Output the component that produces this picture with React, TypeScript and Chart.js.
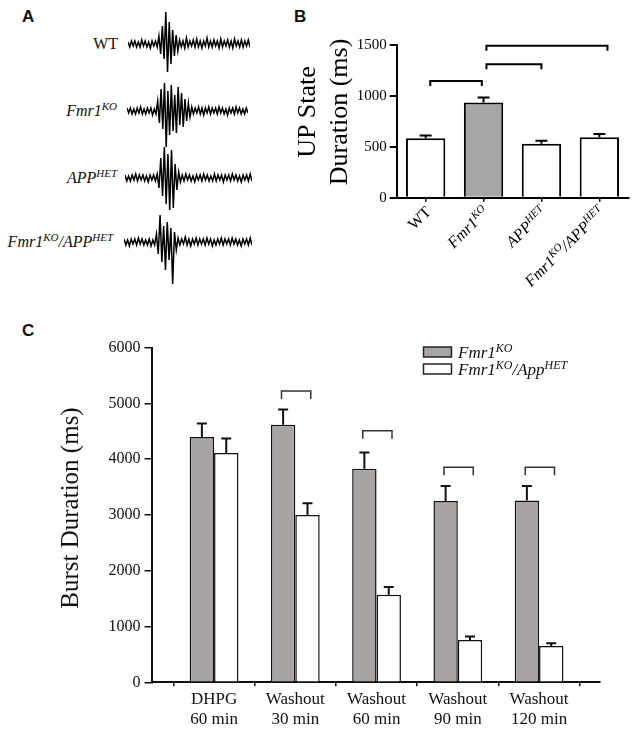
import React, { useEffect, useRef } from 'react';
import { Chart, registerables } from 'chart.js';
Chart.register(...registerables);

const SERIF = '"Liberation Serif", "Times New Roman", serif';
const SANS = '"Liberation Sans", Arial, sans-serif';

// ---------- Panel A: example traces (amplitude, arbitrary units) ----------
const wtTrace = [
  2, -3, 3, -2, 3, -3, 2, -3, 4, -2, 3, -3, 2, -4, 3, -2, 3, -3,
  8, -10, 18, -15, 32, -28, 22, -20, 14, -12, 9, -7,
  4, -3, 3, -4, 6, -3, 3, -2, 4, -3, 5, -3, 3, -4, 3, -2, 6, -3, 3, -3, 4,
  -2, 3, -4, 5, -3, 3, -2, 4, -3, 3, -4, 5, -2, 3, -3, 4, -3, 3, -2, 4, -3,
];
const fmrTrace = [
  3, -2, 3, -3, 2, -3, 3, -2, 4, -3, 2, -3, 3, -2, 3, -4, 2, -3,
  10, -12, 22, -18, 28, -36, 20, -24, 26, -20, 16, -22, 24, -14, 18, -16, 12, -10, 8, -6,
  4, -3, 3, -2, 4, -3, 3, -4, 3, -2, 4, -3, 3, -2, 3, -3, 4,
  -2, 3, -3, 2, -4, 3, -2, 3, -3, 4, -2, 3, -3, 2, -3, 3, -2,
];
const appTrace = [
  3, -3, 2, -3, 3, -2, 4, -3, 3, -2, 3, -3, 2, -4, 3, -2, 3, -3, 4,
  -10, 20, -18, 31, -26, 24, -32, 28, -30, 14, -12, 6,
  -4, 3, -3, 4, -2, 3, -3, 2, -4, 3, -2, 3, -3, 4, -2, 3, -3, 2, -3, 4, -3,
  3, -2, 3, -4, 3, -2, 3, -3, 4, -2, 3, -3, 2, -4, 3, -2, 3, -3, 4, -3,
];
const dblTrace = [
  3, -3, 2, -4, 3, -2, 3, -3, 4, -2, 3, -3, 2, -3, 3, -4, 2, -3,
  8, -12, 27, -20, 16, -28, 20, -18, 14, -42, 10, -8,
  4, -3, 3, -2, 5, -3, 3, -4, 3, -2, 4, -3, 3, -2, 3, -3, 4, -2, 3, -4, 2,
  -3, 3, -2, 4, -3, 3, -2, 3, -3, 4, -2, 3, -3, 2, -4, 3, -2, 3, -3, 4, -3,
];

// ---------- Panel B: UP state duration ----------
type Seg = [string, number]; // [text, superscript?]
const genotypeLabels: Seg[][] = [
  [['WT', 0]],
  [['Fmr1', 0], ['KO', 1]],
  [['APP', 0], ['HET', 1]],
  [['Fmr1', 0], ['KO', 1], ['/APP', 0], ['HET', 1]],
];
const genotypeItalic = [false, true, true, true];
const genotypes = ['WT', 'Fmr1KO', 'APPHET', 'Fmr1KO/APPHET'];
const upStateMean = [585, 935, 530, 595];
const upStateSem = [25, 50, 30, 30];
const upStateColors = ['#ffffff', '#a6a6a6', '#ffffff', '#ffffff'];
const upTicks = [0, 500, 1000, 1500];
// [from index, to index, height (ms)]
const upBrackets = [
  [0.08, 0.97, 1146],
  [1.05, 2.0, 1310],
  [1.05, 3.14, 1493],
];

// ---------- Panel C: burst duration ----------
const timepoints = [
  ['DHPG', '60 min'],
  ['Washout', '30 min'],
  ['Washout', '60 min'],
  ['Washout', '90 min'],
  ['Washout', '120 min'],
];
const fmrBurst = [4400, 4620, 3830, 3250, 3260];
const fmrBurstSem = [240, 270, 290, 270, 260];
const dblBurst = [4110, 3000, 1570, 760, 650];
const dblBurstSem = [260, 210, 140, 60, 50];
// [timepoint index, height (ms)]
const burstBrackets = [
  [1, 5223],
  [2, 4512],
  [3, 3855],
  [4, 3855],
];
const legendC: Seg[][] = [
  [['Fmr1', 0], ['KO', 1]],
  [['Fmr1', 0], ['KO', 1], ['/App', 0], ['HET', 1]],
];
const GRAY = '#a8a4a4';

function drawRich(
  ctx: CanvasRenderingContext2D,
  segs: Seg[],
  x: number,
  y: number,
  size: number,
  italic: boolean,
  align: 'left' | 'right' | 'center'
) {
  const fontFor = (s: number) =>
    `${italic ? 'italic ' : ''}${s ? Math.round(size * 0.68) : size}px ${SERIF}`;
  let total = 0;
  const widths = segs.map(([t, s]) => {
    ctx.font = fontFor(s);
    const w = ctx.measureText(t).width;
    total += w;
    return w;
  });
  let cx = align === 'left' ? x : align === 'right' ? x - total : x - total / 2;
  ctx.textAlign = 'left';
  ctx.textBaseline = 'alphabetic';
  segs.forEach(([t, s], i) => {
    ctx.font = fontFor(s);
    ctx.fillText(t, cx, s ? y - size * 0.36 : y);
    cx += widths[i];
  });
}

function Trace({ data, left, top, width }: { data: number[]; left: number; top: number; width: number }) {
  const ref = useRef<HTMLCanvasElement>(null);
  useEffect(() => {
    const chart = new Chart(ref.current!, {
      type: 'line',
      data: {
        labels: data.map((_, i) => i),
        datasets: [
          {
            data,
            borderColor: '#000',
            borderWidth: 1.5,
            pointRadius: 0,
            tension: 0,
            fill: false,
          },
        ],
      },
      options: {
        animation: false,
        responsive: false,
        maintainAspectRatio: false,
        layout: { padding: 0 },
        plugins: { legend: { display: false }, tooltip: { enabled: false } },
        scales: {
          x: { display: false, offset: false },
          y: { display: false, min: -45, max: 45 },
        },
      },
    });
    return () => chart.destroy();
  }, []);
  return (
    <canvas
      ref={ref}
      width={width}
      height={90}
      style={{ position: 'absolute', left, top, width, height: 90 }}
    />
  );
}

const plainTick = (v: any) => String(v);

function PanelB() {
  const ref = useRef<HTMLCanvasElement>(null);
  useEffect(() => {
    const plugin = {
      id: 'panelB',
      afterDatasetsDraw(chart: any) {
        const ctx = chart.ctx as CanvasRenderingContext2D;
        const xs = chart.scales.x;
        const ys = chart.scales.y;
        const meta = chart.getDatasetMeta(0);
        ctx.save();
        ctx.strokeStyle = '#000';
        ctx.lineWidth = 2;
        meta.data.forEach((bar: any, i: number) => {
          const yTop = ys.getPixelForValue(upStateMean[i] + upStateSem[i]);
          ctx.beginPath();
          ctx.moveTo(bar.x, bar.y);
          ctx.lineTo(bar.x, yTop);
          ctx.moveTo(bar.x - 6, yTop);
          ctx.lineTo(bar.x + 6, yTop);
          ctx.stroke();
        });
        upBrackets.forEach(([a, b, h]) => {
          const x1 = xs.getPixelForValue(a);
          const x2 = xs.getPixelForValue(b);
          const y = ys.getPixelForValue(h);
          ctx.beginPath();
          ctx.moveTo(x1, y + 5);
          ctx.lineTo(x1, y);
          ctx.lineTo(x2, y);
          ctx.lineTo(x2, y + 5);
          ctx.stroke();
        });
        ctx.fillStyle = '#000';
        const axisY = chart.chartArea.bottom;
        genotypeLabels.forEach((segs, i) => {
          const cx = xs.getPixelForValue(i);
          ctx.save();
          ctx.translate(cx + 2, axisY + 11);
          ctx.rotate(-Math.PI / 4);
          drawRich(ctx, segs, 0, 6, 16, genotypeItalic[i], 'right');
          ctx.restore();
        });
        ctx.save();
        ctx.font = `26px ${SERIF}`;
        ctx.textAlign = 'center';
        ctx.textBaseline = 'middle';
        ctx.translate(48, 112);
        ctx.rotate(-Math.PI / 2);
        ctx.fillText('UP State', 0, 0);
        ctx.fillText('Duration (ms)', 0, 32);
        ctx.restore();
        ctx.restore();
      },
    };
    const chart = new Chart(ref.current!, {
      type: 'bar',
      data: {
        labels: genotypes,
        datasets: [
          {
            data: upStateMean,
            backgroundColor: upStateColors,
            borderColor: '#000',
            borderWidth: 2,
            barPercentage: 0.68,
            categoryPercentage: 1,
          },
        ],
      },
      options: {
        animation: false,
        responsive: false,
        maintainAspectRatio: false,
        layout: { padding: { top: 45, right: 4.7, left: 0, bottom: 0 } },
        plugins: { legend: { display: false }, tooltip: { enabled: false } },
        scales: {
          x: {
            offset: true,
            grid: {
              display: true,
              offset: false,
              drawOnChartArea: false,
              drawTicks: true,
              tickLength: 4,
              color: '#000',
              lineWidth: 1.5,
            },
            border: { display: true, color: '#000', width: 2 },
            ticks: { display: false },
            afterFit: (s: any) => {
              s.height = 132.3;
            },
          },
          y: {
            min: 0,
            max: 1500,
            afterBuildTicks: (s: any) => {
              s.ticks = upTicks.map((v) => ({ value: v }));
            },
            ticks: { callback: plainTick, font: { family: SERIF, size: 15 }, color: '#000', padding: 3 },
            grid: { drawOnChartArea: false, tickLength: 7, color: '#000', lineWidth: 2 },
            border: { display: true, color: '#000', width: 2 },
            afterFit: (s: any) => {
              s.width = 136.7;
            },
          },
        },
      },
      plugins: [plugin],
    });
    return () => chart.destroy();
  }, []);
  return (
    <canvas
      ref={ref}
      width={373}
      height={330}
      style={{ position: 'absolute', left: 260, top: 0, width: 373, height: 330 }}
    />
  );
}

function PanelC() {
  const ref = useRef<HTMLCanvasElement>(null);
  useEffect(() => {
    const plugin = {
      id: 'panelC',
      afterDatasetsDraw(chart: any) {
        const ctx = chart.ctx as CanvasRenderingContext2D;
        const xs = chart.scales.x;
        const ys = chart.scales.y;
        ctx.save();
        ctx.strokeStyle = '#111';
        ctx.lineWidth = 2;
        const series = [
          [fmrBurst, fmrBurstSem],
          [dblBurst, dblBurstSem],
        ];
        series.forEach(([mean, sem], d) => {
          const meta = chart.getDatasetMeta(d);
          meta.data.forEach((bar: any, i: number) => {
            const yTop = ys.getPixelForValue(mean[i] + sem[i]);
            ctx.beginPath();
            ctx.moveTo(bar.x, bar.y);
            ctx.lineTo(bar.x, yTop);
            ctx.moveTo(bar.x - 5, yTop);
            ctx.lineTo(bar.x + 5, yTop);
            ctx.stroke();
          });
        });
        ctx.strokeStyle = '#333';
        ctx.lineWidth = 1.5;
        burstBrackets.forEach(([i, h]) => {
          const x1 = xs.getPixelForValue(i - 0.17);
          const x2 = xs.getPixelForValue(i + 0.19);
          const y = ys.getPixelForValue(h);
          ctx.beginPath();
          ctx.moveTo(x1, y + 8);
          ctx.lineTo(x1, y);
          ctx.lineTo(x2, y);
          ctx.lineTo(x2, y + 8);
          ctx.stroke();
        });
        const boxes = [
          [27, GRAY],
          [44, '#ffffff'],
        ] as [number, string][];
        boxes.forEach(([y, c], k) => {
          ctx.fillStyle = c;
          ctx.fillRect(423.5, y, 28, 10);
          ctx.strokeStyle = '#222';
          ctx.lineWidth = 1.5;
          ctx.strokeRect(423.5, y, 28, 10);
          ctx.fillStyle = '#111';
          drawRich(ctx, legendC[k], 458, y + 11, 17, true, 'left');
        });
        ctx.save();
        ctx.fillStyle = '#111';
        ctx.font = `25px ${SERIF}`;
        ctx.textAlign = 'center';
        ctx.textBaseline = 'middle';
        ctx.translate(71, 188);
        ctx.rotate(-Math.PI / 2);
        ctx.fillText('Burst Duration (ms)', 0, 0);
        ctx.restore();
        ctx.restore();
      },
    };
    const chart = new Chart(ref.current!, {
      type: 'bar',
      data: {
        datasets: [
          {
            label: 'Fmr1KO',
            data: fmrBurst.map((v, i) => ({ x: i, y: v })),
            backgroundColor: GRAY,
            borderColor: '#111',
            borderWidth: 1.5,
            categoryPercentage: 0.6,
            barPercentage: 1,
          },
          {
            label: 'Fmr1KO/AppHET',
            data: dblBurst.map((v, i) => ({ x: i, y: v })),
            backgroundColor: '#ffffff',
            borderColor: '#111',
            borderWidth: 1.5,
            categoryPercentage: 0.6,
            barPercentage: 1,
          },
        ],
      },
      options: {
        animation: false,
        responsive: false,
        maintainAspectRatio: false,
        layout: { padding: { top: 27.7, right: 33, left: 0, bottom: 0 } },
        plugins: { legend: { display: false }, tooltip: { enabled: false } },
        scales: {
          x: {
            type: 'linear',
            min: -0.77,
            max: 4.75,
            offset: false,
            afterBuildTicks: (s: any) => {
              s.ticks = timepoints.map((_, i) => ({ value: i }));
            },
            ticks: {
              callback: (_v: any, i: number) => timepoints[i],
              font: { family: SERIF, size: 17, lineHeight: 1.2 },
              color: '#111',
              padding: 3,
              maxRotation: 0,
              autoSkip: false,
            },
            grid: { drawOnChartArea: false, tickLength: 4, color: '#111', lineWidth: 1.5 },
            border: { display: true, color: '#111', width: 2 },
            afterFit: (s: any) => {
              s.height = 47.7;
            },
          },
          y: {
            min: 0,
            max: 6000,
            ticks: { stepSize: 1000, callback: plainTick, font: { family: SERIF, size: 16 }, color: '#111', padding: 4 },
            grid: { drawOnChartArea: false, tickLength: 7, color: '#111', lineWidth: 1.5 },
            border: { display: true, color: '#111', width: 2 },
            afterFit: (s: any) => {
              s.width = 151.5;
            },
          },
        },
      },
      plugins: [plugin],
    });
    return () => chart.destroy();
  }, []);
  return (
    <canvas
      ref={ref}
      width={633}
      height={410}
      style={{ position: 'absolute', left: 0, top: 320, width: 633, height: 410 }}
    />
  );
}

const panelLetter: React.CSSProperties = {
  position: 'absolute',
  fontFamily: SANS,
  fontWeight: 'bold',
  fontSize: 17,
  lineHeight: '17px',
  color: '#111',
};

const traceLabel: React.CSSProperties = {
  position: 'absolute',
  fontFamily: SERIF,
  fontSize: 16,
  lineHeight: '20px',
  textAlign: 'right',
  width: 120,
  color: '#111',
  whiteSpace: 'nowrap',
};
const supStyle: React.CSSProperties = { fontSize: 11, verticalAlign: 6, lineHeight: 0 };

export default function App() {
  return (
    <div
      style={{
        position: 'absolute',
        left: 0,
        top: 0,
        width: 633,
        height: 730,
        background: '#fff',
        overflow: 'hidden',
      }}
    >
      <div style={{ ...panelLetter, left: 22, top: 8 }}>A</div>
      <div style={{ ...panelLetter, left: 294, top: 8 }}>B</div>
      <div style={{ ...panelLetter, left: 22, top: 322 }}>C</div>

      <div style={{ ...traceLabel, left: -2, top: 34 }}>WT</div>
      <div style={{ ...traceLabel, left: -3, top: 101, fontStyle: 'italic' }}>
        Fmr1<sup style={supStyle}>KO</sup>
      </div>
      <div style={{ ...traceLabel, left: -3, top: 168, fontStyle: 'italic' }}>
        APP<sup style={supStyle}>HET</sup>
      </div>
      <div style={{ ...traceLabel, left: -7, top: 232, fontStyle: 'italic' }}>
        Fmr1<sup style={supStyle}>KO</sup>/APP<sup style={supStyle}>HET</sup>
      </div>

      <Trace data={wtTrace} left={128} top={44 - 45} width={122} />
      <Trace data={fmrTrace} left={127} top={111 - 45} width={121} />
      <Trace data={appTrace} left={125} top={178 - 45} width={127} />
      <Trace data={dblTrace} left={124} top={242 - 45} width={128} />

      <PanelB />
      <PanelC />
    </div>
  );
}
